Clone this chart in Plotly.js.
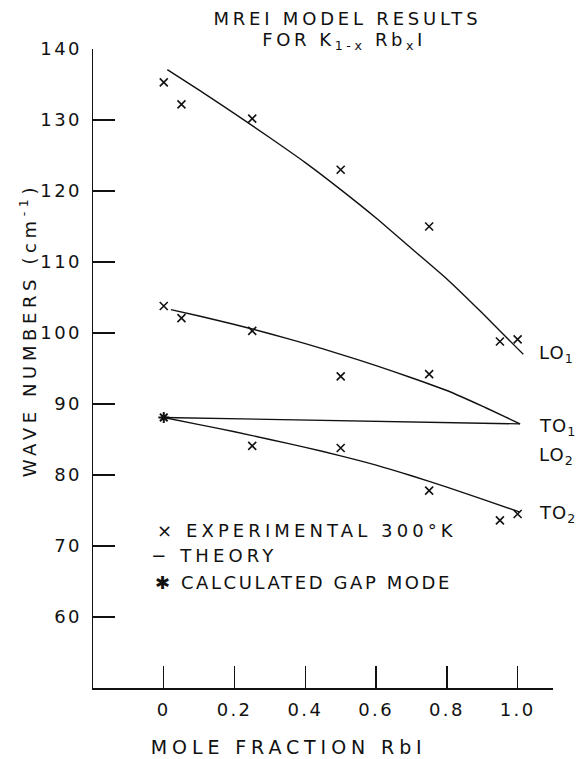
<!DOCTYPE html>
<html>
<head>
<meta charset="utf-8">
<script src="https://cdn.plot.ly/plotly-3.0.1.min.js"></script>
<style>
  html, body { margin: 0; padding: 0; background: #fff; }
  #chart { width: 578px; height: 759px; }
  /* wide lettering-guide look; applies to Plotly's text measurer as well */
  svg text { letter-spacing: 2.4px; }
  /* spacing for individual labels */
  #chart .annotation[data-index="0"] text { letter-spacing: 3.8px; }
  #chart .annotation[data-index="1"] text { letter-spacing: 3.6px; }
  #chart .annotation[data-index="2"] text { letter-spacing: 4.9px; }
  #chart .annotation[data-index="3"] text { letter-spacing: 4.6px; }
  #chart .annotation[data-index="4"] text,
  #chart .annotation[data-index="5"] text,
  #chart .annotation[data-index="6"] text,
  #chart .annotation[data-index="7"] text { letter-spacing: 1px; }
  #chart .annotation[data-index="8"] text { letter-spacing: 4.1px; }
  #chart .annotation[data-index="9"] text { letter-spacing: 4.1px; }
  #chart .annotation[data-index="10"] text { letter-spacing: 2.6px; }
</style>
</head>
<body>
<div id="chart"></div>
<script>
// Mole fraction of RbI in the K(1-x)Rb(x)I mixed crystal
const upperX = [0.01, 0.1, 0.2, 0.3, 0.4, 0.5, 0.6, 0.7, 0.8, 0.9, 1.0, 1.016];
// upper theory branch (ends at LO1)
const theoryUpper = [137.1, 134.2, 130.9, 127.5, 124.0, 120.2, 116.2, 111.9, 107.6, 102.8, 97.8, 97.0];

// middle theory branch (ends at TO1)
const middleX = [0.02, 0.1, 0.2, 0.3, 0.4, 0.5, 0.6, 0.7, 0.8, 0.9, 1.007];
const theoryMiddle = [103.3, 102.4, 101.2, 99.9, 98.5, 97.0, 95.4, 93.7, 91.9, 89.7, 87.2];

// nearly flat branch from the gap mode
const flatX = [0.0, 0.5, 1.007];
const theoryFlat = [88.1, 87.7, 87.2];

// lower theory branch (ends at TO2)
const lowerX = [0.0, 0.1, 0.2, 0.3, 0.4, 0.5, 0.6, 0.7, 0.8, 0.9, 1.005];
const theoryLower = [88.1, 87.1, 86.1, 85.0, 83.9, 82.7, 81.4, 79.9, 78.3, 76.6, 74.8];

// experimental points, 300 K
const expUpperX = [0.0, 0.05, 0.25, 0.5, 0.75, 0.95, 1.0];
const expUpper = [135.3, 132.2, 130.2, 123.0, 115.0, 98.8, 99.1];
const expMiddleX = [0.0, 0.05, 0.25, 0.5, 0.75];
const expMiddle = [103.8, 102.1, 100.3, 93.9, 94.2];
const expLowerX = [0.25, 0.5, 0.75, 0.95, 1.0];
const expLower = [84.1, 83.8, 77.8, 73.6, 74.5];

// calculated gap mode
const gapX = [0.0];
const gapY = [88.1];

const xTicks = [0, 0.2, 0.4, 0.6, 0.8, 1.0];
const xTickText = ['0', '0.2', '0.4', '0.6', '0.8', '1.0'];
const yTicks = [60, 70, 80, 90, 100, 110, 120, 130, 140];

const FONT = 'DejaVu Sans, sans-serif';
const INK = '#111';

function theory(x, y, curved) {
  return { x: x, y: y, mode: 'lines', type: 'scatter', hoverinfo: 'skip',
           line: { color: INK, width: 1.4, shape: curved ? 'spline' : 'linear', smoothing: 0.6 } };
}
function crosses(x, y) {
  return { x: x, y: y, mode: 'markers', type: 'scatter',
           marker: { symbol: 'x-thin', size: 8, color: INK, line: { color: INK, width: 1.6 } } };
}

const data = [
  theory(upperX, theoryUpper, true),
  theory(middleX, theoryMiddle, true),
  theory(flatX, theoryFlat, false),
  theory(lowerX, theoryLower, true),
  crosses(expUpperX, expUpper),
  crosses(expMiddleX, expMiddle),
  crosses(expLowerX, expLower),
  { x: gapX, y: gapY, mode: 'markers', type: 'scatter',
    marker: { symbol: 'asterisk', size: 9, color: INK, line: { color: INK, width: 2 } } }
];

const font = (size) => ({ family: FONT, size: size || 18, color: INK });

const note = (text, x, y, opts) => Object.assign({
  text: text, x: x, y: y, xref: 'x', yref: 'y', showarrow: false,
  xanchor: 'left', yanchor: 'middle', font: font(18)
}, opts || {});

const paperNote = (text, x, y, opts) => Object.assign({
  text: text, x: x, y: y, xref: 'paper', yref: 'paper', showarrow: false,
  xanchor: 'center', yanchor: 'middle', font: font(18)
}, opts || {});

const layout = {
  width: 578, height: 759,
  margin: { l: 93, r: 25, t: 49, b: 71 },
  paper_bgcolor: '#fff', plot_bgcolor: '#fff',
  showlegend: false,
  font: font(18),
  xaxis: {
    range: [-0.2, 1.1], tickvals: xTicks, ticktext: xTickText,
    ticks: 'inside', ticklen: 22, tickwidth: 1.3, tickcolor: INK,
    showline: true, linecolor: INK, linewidth: 1.5,
    showgrid: false, zeroline: false, ticklabelstandoff: 5,
    tickfont: font(18)
  },
  yaxis: {
    range: [50, 140], tickvals: yTicks,
    ticks: 'inside', ticklen: 22, tickwidth: 1.3, tickcolor: INK,
    showline: true, linecolor: INK, linewidth: 1.5,
    showgrid: false, zeroline: false, ticklabelstandoff: 6,
    tickfont: font(18)
  },
  annotations: [
    paperNote('MREI MODEL RESULTS', 0.553, 1.048),
    paperNote('FOR K<sub>1-x</sub> Rb<sub>x</sub>I', 0.546, 1.012),
    paperNote('MOLE FRACTION RbI', 0.426, -0.092, { font: font(19) }),
    paperNote('WAVE NUMBERS (cm<sup>-1</sup>)', -0.1407, 0.56, { textangle: -90 }),
    note('LO<sub>1</sub>', 1.05, 97.0),
    note('TO<sub>1</sub>', 1.05, 86.7),
    note('LO<sub>2</sub>', 1.05, 82.7),
    note('TO<sub>2</sub>', 1.05, 74.5),
    note('\u00d7 EXPERIMENTAL 300\u00b0K', 0.404, 72.2, { xanchor: 'center' }),
    note('\u2212 THEORY', 0.142, 68.7, { xanchor: 'center' }),
    note('\u2731 CALCULATED GAP MODE', 0.394, 64.9, { xanchor: 'center' })
  ]
};

Plotly.newPlot('chart', data, layout, { staticPlot: true, displayModeBar: false });
</script>
</body>
</html>
